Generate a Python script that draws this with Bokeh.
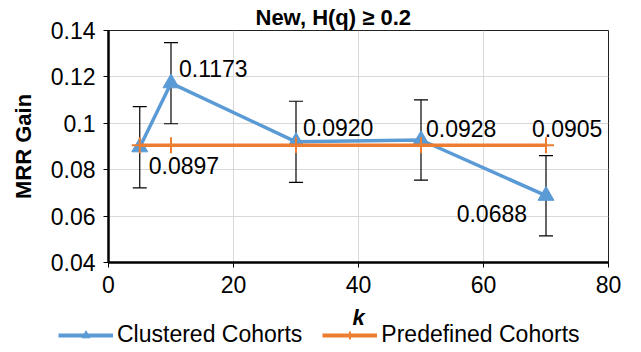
from bokeh.plotting import figure
from bokeh.layouts import column
from bokeh.models import (ColumnDataSource, Whisker, Legend, LegendItem, FixedTicker, TeeHead, Label)
from bokeh.core.properties import value
from bokeh.embed import file_html
from bokeh.resources import INLINE

# data
k_values = [5, 10, 30, 50, 70]
clustered = [0.0897, 0.1173, 0.0920, 0.0928, 0.0688]
clustered_err = [0.0175, 0.0175, 0.0175, 0.0173, 0.0173]
predefined = [0.0905, 0.0905, 0.0905, 0.0905, 0.0905]
x_ticks = [0, 20, 40, 60, 80]
y_ticks = [0.04, 0.06, 0.08, 0.1, 0.12, 0.14]
y_tick_labels = ["0.04", "0.06", "0.08", "0.1", "0.12", "0.14"]
series_names = ["Clustered Cohorts", "Predefined Cohorts"]

BLUE = "#5B9BD5"
ORANGE = "#ED7D31"
FONT = "Liberation Sans"

p = figure(width=641, height=304, x_range=(0, 80), y_range=(0.04, 0.14),
           output_backend="svg", toolbar_location=None,
           title="New, H(q) \u2265 0.2")
p.min_border_left = 108
p.min_border_right = 33
p.min_border_top = 30
p.min_border_bottom = 42

p.title.align = "left"
p.title.offset = 147
p.title.text_font = FONT
p.title.text_font_size = "22px"
p.title.text_font_style = "bold"
p.title.text_color = "black"
p.title.standoff = 2

p.outline_line_color = "#222222"
p.outline_line_width = 1

for ax in (p.xaxis[0], p.yaxis[0]):
    ax.axis_line_color = "black"
    ax.axis_line_width = 2.5
    ax.major_tick_line_color = "black"
    ax.major_tick_out = 5
    ax.major_tick_in = 0
    ax.minor_tick_line_color = None
    ax.major_label_text_font = FONT
    ax.major_label_text_font_size = "23px"
    ax.major_label_text_color = "black"
    ax.axis_label_text_font = FONT
    ax.axis_label_text_font_size = "22px"
    ax.axis_label_text_font_style = "bold"
    ax.axis_label_text_color = "black"

p.xaxis.ticker = FixedTicker(ticks=x_ticks)
p.yaxis.ticker = FixedTicker(ticks=y_ticks)
p.yaxis.major_label_overrides = {t: l for t, l in zip(y_ticks, y_tick_labels)}
p.yaxis.axis_label = "MRR Gain"
p.xaxis.major_label_standoff = 8
p.yaxis.major_label_standoff = 8
p.yaxis.axis_label_standoff = 12

p.grid.grid_line_color = "#D9D9D9"
p.grid.grid_line_width = 1

src = ColumnDataSource(dict(
    k=k_values, c=clustered,
    lo=[c - e for c, e in zip(clustered, clustered_err)],
    hi=[c + e for c, e in zip(clustered, clustered_err)],
    pre=predefined,
))

wh = Whisker(source=src, base="k", lower="lo", upper="hi", line_color="black", line_width=1.2,
             lower_head=TeeHead(size=14, line_color="black", line_width=1.2),
             upper_head=TeeHead(size=14, line_color="black", line_width=1.2))
p.add_layout(wh)

p.line("k", "c", source=src, line_color=BLUE, line_width=3.5)
p.scatter("k", "c", source=src, marker="triangle", size=16, fill_color=BLUE, line_color=BLUE)
p.line("k", "pre", source=src, line_color=ORANGE, line_width=3.5)
p.scatter("k", "pre", source=src, marker="cross", size=16, line_color=ORANGE, line_width=2)

# data labels
lab_x = k_values + [k_values[-1]]
lab_y = clustered + [predefined[-1]]
lab_t = ["%.4f" % v for v in clustered] + ["%.4f" % predefined[-1]]
lab_xo = [9, 8, 7, 5, -19, -14]
lab_yo = [18, -15, -14, -12, 18, -17]
lab_align = ["left", "left", "left", "left", "right", "left"]
lsrc = ColumnDataSource(dict(x=lab_x, y=lab_y, t=lab_t, xo=lab_xo, yo=lab_yo, al=lab_align))
p.text("x", "y", text="t", source=lsrc, x_offset="xo", y_offset="yo", text_align="al",
       text_baseline="middle", text_font=value(FONT), text_font_size="23px", text_color="black")

# lower strip: x-axis title "k" and the legend (same series, drawn outside this strip's range)
p2 = figure(width=641, height=48, x_range=(0, 80), y_range=(1, 2),
            output_backend="svg", toolbar_location=None,
            x_axis_location=None, y_axis_location=None, min_border=0)
p2.frame_align = False
p2.grid.visible = False
p2.outline_line_color = None

r1 = p2.line("k", "c", source=src, line_color=BLUE, line_width=4)
r1m = p2.scatter("k", "c", source=src, marker="triangle", size=18, fill_color=BLUE, line_color=BLUE)
r2 = p2.line("k", "pre", source=src, line_color=ORANGE, line_width=4)
r2m = p2.scatter("k", "pre", source=src, marker="cross", size=18, line_color=ORANGE, line_width=2)

p2.add_layout(Label(x=358, y=35, x_units="screen", y_units="screen", text="k",
                    text_align="center", text_baseline="middle", text_font=FONT,
                    text_font_size="22px", text_font_style="bold italic", text_color="black"))

legend = Legend(items=[
    LegendItem(label=series_names[0], renderers=[r1, r1m]),
    LegendItem(label=series_names[1], renderers=[r2, r2m]),
], orientation="horizontal", location=(58, 4))
legend.label_text_font = FONT
legend.label_text_font_size = "23px"
legend.label_text_color = "black"
legend.glyph_width = 55
legend.glyph_height = 20
legend.label_height = 20
legend.spacing = 20
legend.padding = 0
legend.margin = 0
legend.label_standoff = 4
legend.border_line_color = None
legend.background_fill_alpha = 0
p2.add_layout(legend)

layout = column(p, p2, spacing=0)
open("out.html", "w").write(file_html(layout, INLINE))
